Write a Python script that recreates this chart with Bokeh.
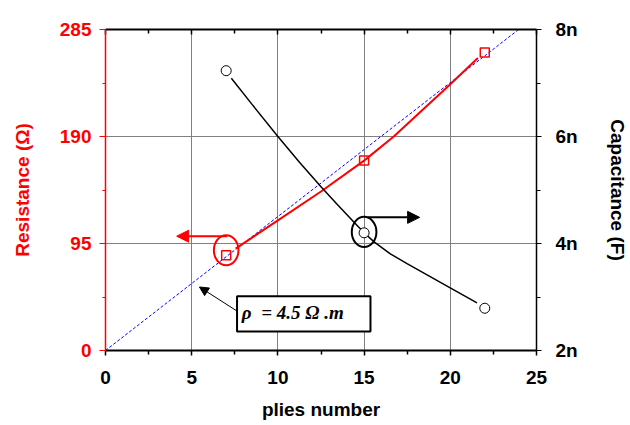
from bokeh.plotting import figure
from bokeh.models import Range1d, LinearAxis, FixedTicker, Arrow, NormalHead, CustomJSTickFormatter
from bokeh.core.properties import value
from bokeh.embed import file_html
from bokeh.resources import INLINE

# ---- data ----
plies = [7, 15, 22]
resistance = [84.6, 168.6, 264.5]          # ohm
capacitance = [7.23, 4.2, 2.79]            # nF

res_fit_x = [7.55, 10, 12.5, 15, 16.72, 19.97, 21.6]
res_fit_y = [90.5, 115.6, 141.2, 168.6, 190, 236, 259.7]

cap_fit_x = [7.3, 8.5, 10, 11.25, 12.5, 13.5, 14.5, 15, 15.58, 16.5, 17.49, 19.97, 21.55]
cap_fit_y = [7.09, 6.6, 6.0, 5.52, 5.06, 4.71, 4.37, 4.2, 4.03, 3.81, 3.625, 3.175, 2.89]

rho_x = [0, 24.3]
rho_y = [0, 289]

x_ticks = [0, 5, 10, 15, 20, 25]
x_minor = [2.5, 7.5, 12.5, 17.5, 22.5]
r_ticks = [0, 95, 190, 285]
r_minor = [47.5, 142.5, 237.5]
c_ticks = [2, 4, 6, 8]
c_minor = [3, 5, 7]

rho_text = "ρ\u00a0\u00a0= 4.5 Ω .m"

FONT = "Liberation Sans"
FS = "19px"

p = figure(width=630, height=425, x_range=Range1d(0, 25), y_range=Range1d(0, 285),
           output_backend="svg", toolbar_location=None,
           min_border_left=105, min_border_right=89, min_border_top=29, min_border_bottom=75)
p.outline_line_color = None
p.extra_y_ranges = {"cap": Range1d(2, 8)}

# grids
p.xgrid.ticker = FixedTicker(ticks=[5, 10, 15, 20])
p.ygrid.ticker = FixedTicker(ticks=[95, 190])
for g in (p.xgrid[0], p.ygrid[0]):
    g.grid_line_color = "#808080"
    g.grid_line_width = 1

# bottom axis
xa = p.xaxis[0]
xa.ticker = FixedTicker(ticks=x_ticks, minor_ticks=x_minor)
xa.axis_line_color = "black"
xa.axis_line_width = 2
xa.major_tick_in = 0
xa.major_tick_out = 5
xa.minor_tick_in = 0
xa.minor_tick_out = 4
xa.major_tick_line_width = 1.5
xa.minor_tick_line_width = 1.5
xa.major_label_text_font = FONT
xa.major_label_text_font_size = FS
xa.major_label_text_font_style = "bold"
xa.major_label_text_color = "black"
xa.major_label_standoff = 15
xa.axis_label = "plies number"
xa.axis_label_text_font = FONT
xa.axis_label_text_font_size = FS
xa.axis_label_text_font_style = "bold"
xa.axis_label_text_color = "black"
xa.axis_label_standoff = 12

# left axis
ya = p.yaxis[0]
ya.ticker = FixedTicker(ticks=r_ticks, minor_ticks=r_minor)
ya.axis_line_color = "red"
ya.axis_line_width = 1.5
ya.major_tick_line_color = "red"
ya.minor_tick_line_color = "red"
ya.major_tick_in = 0
ya.major_tick_out = 6
ya.minor_tick_in = 0
ya.minor_tick_out = 3
ya.major_label_text_font = FONT
ya.major_label_text_font_size = FS
ya.major_label_text_font_style = "bold"
ya.major_label_text_color = "red"
ya.major_label_standoff = 8
ya.axis_label = "Resistance (Ω)"
ya.axis_label_text_font = FONT
ya.axis_label_text_font_size = FS
ya.axis_label_text_font_style = "bold"
ya.axis_label_text_color = "red"
ya.axis_label_standoff = 24

# right axis
ra = LinearAxis(y_range_name="cap", ticker=FixedTicker(ticks=c_ticks, minor_ticks=c_minor),
                formatter=CustomJSTickFormatter(code="return tick.toFixed(0) + 'n';"))
ra.axis_line_color = "black"
ra.axis_line_width = 1.5
ra.major_tick_in = 0
ra.major_tick_out = 5
ra.minor_tick_in = 0
ra.minor_tick_out = 4
ra.major_label_text_font = FONT
ra.major_label_text_font_size = FS
ra.major_label_text_font_style = "bold"
ra.major_label_text_color = "black"
ra.major_label_standoff = 14
ra.axis_label = "Capacitance (F)"
ra.axis_label_text_font = FONT
ra.axis_label_text_font_size = FS
ra.axis_label_text_font_style = "bold"
ra.axis_label_text_color = "black"
ra.axis_label_standoff = 26
p.add_layout(ra, "right")

# top axis (ticks only)
ta = LinearAxis(ticker=FixedTicker(ticks=x_ticks, minor_ticks=x_minor),
                formatter=CustomJSTickFormatter(code="return '';"))
ta.axis_line_color = "black"
ta.axis_line_width = 2
ta.major_tick_in = 5
ta.major_tick_out = 0
ta.minor_tick_in = 4
ta.minor_tick_out = 0
ta.major_tick_line_width = 1.5
ta.minor_tick_line_width = 1.5
ta.major_label_standoff = 0
p.add_layout(ta, "above")

# data
p.line(rho_x, rho_y, line_color="blue", line_width=1, line_dash="3 2")
p.line(res_fit_x, res_fit_y, line_color="red", line_width=2)
p.line(cap_fit_x, cap_fit_y, line_color="black", line_width=1.5, y_range_name="cap")
p.scatter(plies, resistance, marker="square", size=9, line_color="red", fill_color=None, line_width=1.5)
p.scatter(plies, capacitance, marker="circle", size=10, line_color="black", fill_color="white",
          line_width=1, y_range_name="cap")

# annotations
p.ellipse(x=[7], y=[89], width=1.43, height=26.7, fill_color=None, line_color="red", line_width=2)
p.ellipse(x=[15], y=[105.3], width=1.43, height=26.7, fill_color=None, line_color="black", line_width=2)
p.add_layout(Arrow(end=NormalHead(size=12, fill_color="red", line_color="red"),
                   x_start=7.05, y_start=101.5, x_end=4.13, y_end=101.5,
                   line_color="red", line_width=2))
p.add_layout(Arrow(end=NormalHead(size=12, fill_color="black", line_color="black"),
                   x_start=15.2, y_start=118.2, x_end=18.22, y_end=118.2,
                   line_color="black", line_width=2))
p.add_layout(Arrow(end=NormalHead(size=9, fill_color="black", line_color="black"),
                   x_start=7.63, y_start=35, x_end=5.45, y_end=56.4,
                   line_color="black", line_width=1))
p.quad(left=[7.63], right=[15.37], top=[48.1], bottom=[16.9], fill_color="white",
       line_color="black", line_width=2)
p.text(x=[7.91], y=[33.5], text=[rho_text], text_font=value("Liberation Serif"),
       text_font_style="bold italic", text_font_size="19px", text_baseline="middle",
       text_color="black")

open("out.html", "w").write(file_html(p, INLINE))
